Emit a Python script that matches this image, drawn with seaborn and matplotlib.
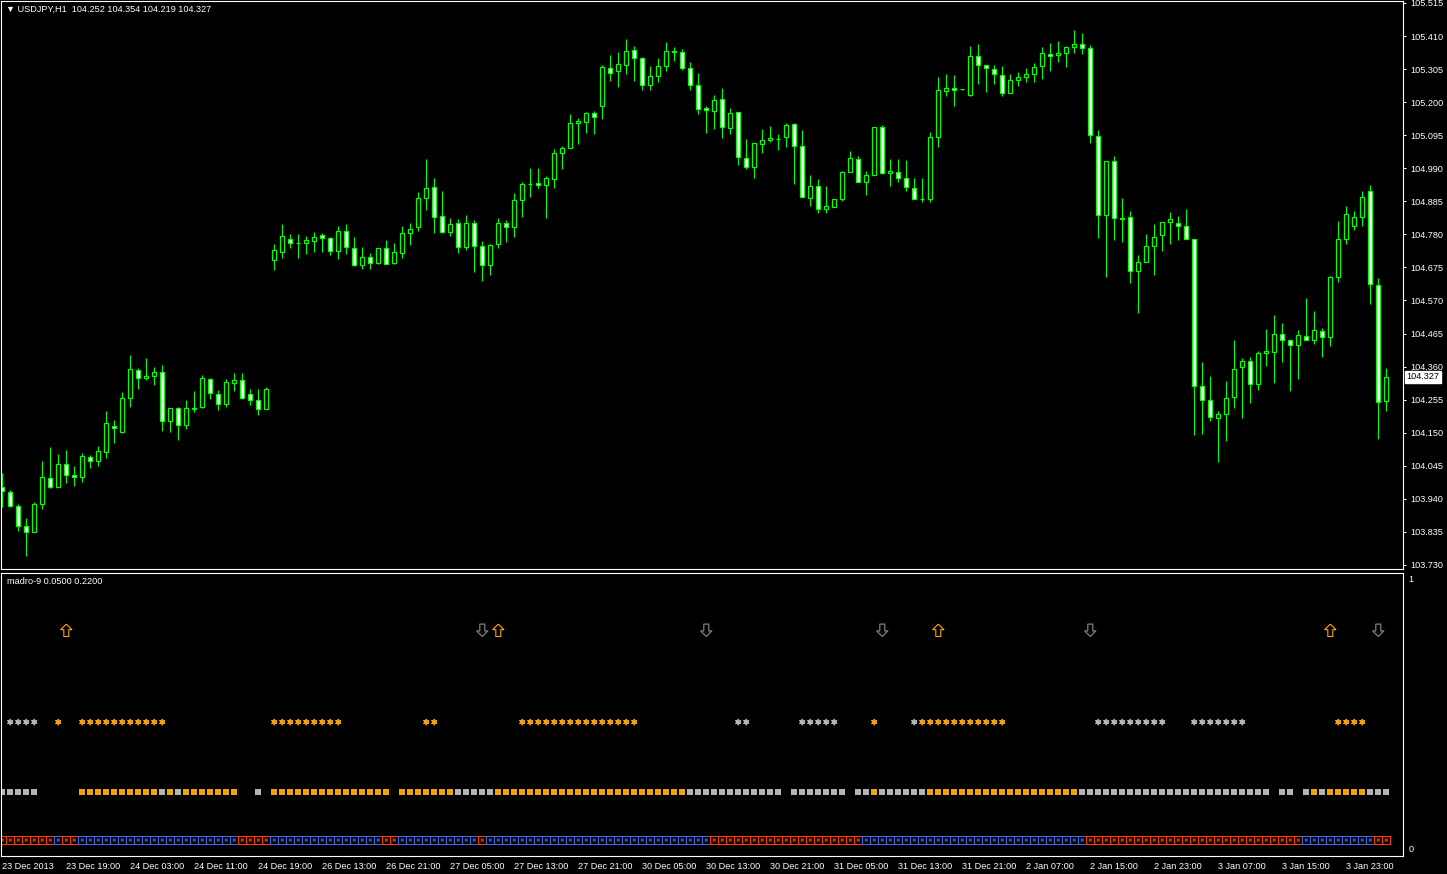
import numpy as np
import pandas as pd
import matplotlib
matplotlib.use("Agg")
import matplotlib.pyplot as plt
import matplotlib.transforms as mtransforms
from matplotlib.path import Path
import seaborn as sns

# ---------------- data (USDJPY H1) ----------------
opens = [103.978, 103.963, 103.918, 103.853, 103.834, 103.923, 104.007, 103.978, 104.049, 104.015,
         104.008, 104.072, 104.059, 104.088, 104.172, 104.151, 104.259, 104.350, 104.323, 104.331,
         104.343, 104.186, 104.229, 104.174, 104.226, 104.231, 104.321, 104.272, 104.240, 104.307,
         104.316, 104.272, 104.253, 104.226, 104.698, 104.725, 104.766, 104.752, 104.752, 104.758,
         104.777, 104.768, 104.726, 104.790, 104.736, 104.684, 104.707, 104.690, 104.736, 104.690,
         104.720, 104.783, 104.803, 104.897, 104.930, 104.837, 104.787, 104.815, 104.741, 104.815,
         104.742, 104.682, 104.749, 104.815, 104.803, 104.888, 104.941, 104.942, 104.936, 104.957,
         105.037, 105.053, 105.133, 105.136, 105.165, 105.187, 105.308, 105.298, 105.317, 105.365,
         105.339, 105.254, 105.282, 105.314, 105.358, 105.358, 105.308, 105.254, 105.180, 105.171,
         105.209, 105.117, 105.168, 105.022, 104.993, 105.066, 105.079, 105.083, 105.088, 105.130,
         105.060, 104.895, 104.933, 104.860, 104.866, 104.891, 104.977, 105.018, 104.945, 104.968,
         105.120, 104.974, 104.977, 104.958, 104.926, 104.891, 104.891, 105.090, 105.234, 105.244,
         105.241, 105.222, 105.346, 105.317, 105.304, 105.285, 105.228, 105.269, 105.279, 105.288,
         105.314, 105.352, 105.349, 105.355, 105.374, 105.384, 105.371, 105.091, 104.841, 105.012,
         104.831, 104.834, 104.663, 104.691, 104.742, 104.777, 104.818, 104.815, 104.806, 104.764,
         104.297, 104.253, 104.196, 104.208, 104.262, 104.358, 104.377, 104.304, 104.402, 104.405,
         104.463, 104.443, 104.428, 104.456, 104.443, 104.472, 104.453, 104.644, 104.764, 104.806,
         104.834, 104.917, 104.618, 104.252]
highs = [104.021, 103.968, 103.924, 103.878, 103.931, 104.060, 104.104, 104.082, 104.095, 104.044,
         104.085, 104.079, 104.107, 104.219, 104.189, 104.279, 104.397, 104.356, 104.387, 104.359,
         104.365, 104.229, 104.233, 104.254, 104.282, 104.333, 104.324, 104.286, 104.321, 104.340,
         104.340, 104.289, 104.289, 104.295, 104.749, 104.813, 104.781, 104.781, 104.775, 104.787,
         104.783, 104.771, 104.807, 104.813, 104.771, 104.739, 104.720, 104.736, 104.762, 104.752,
         104.807, 104.816, 104.914, 105.019, 104.959, 104.918, 104.832, 104.829, 104.842, 104.826,
         104.759, 104.749, 104.832, 104.826, 104.911, 104.946, 104.991, 104.991, 104.965, 105.051,
         105.061, 105.162, 105.150, 105.169, 105.172, 105.318, 105.350, 105.358, 105.401, 105.378,
         105.342, 105.314, 105.340, 105.391, 105.375, 105.369, 105.328, 105.293, 105.187, 105.223,
         105.245, 105.181, 105.168, 105.083, 105.069, 105.115, 105.124, 105.099, 105.133, 105.133,
         105.111, 104.969, 104.956, 104.933, 104.891, 104.981, 105.045, 105.028, 104.980, 105.120,
         105.127, 105.018, 105.018, 105.015, 104.958, 104.958, 105.104, 105.279, 105.288, 105.285,
         105.242, 105.378, 105.385, 105.317, 105.318, 105.315, 105.288, 105.296, 105.308, 105.324,
         105.374, 105.388, 105.394, 105.378, 105.429, 105.420, 105.382, 105.111, 105.012, 105.028,
         104.896, 104.853, 104.714, 104.780, 104.812, 104.818, 104.850, 104.837, 104.860, 104.764,
         104.374, 104.329, 104.218, 104.313, 104.443, 104.386, 104.389, 104.408, 104.479, 104.523,
         104.498, 104.443, 104.476, 104.577, 104.536, 104.482, 104.647, 104.821, 104.869, 104.853,
         104.917, 104.936, 104.640, 104.354]
lows = [103.915, 103.915, 103.839, 103.759, 103.834, 103.909, 103.975, 103.978, 103.991, 103.982,
        103.994, 104.039, 104.045, 104.071, 104.118, 104.148, 104.233, 104.290, 104.318, 104.302,
        104.156, 104.153, 104.128, 104.162, 104.217, 104.229, 104.258, 104.223, 104.233, 104.283,
        104.258, 104.238, 104.207, 104.226, 104.667, 104.706, 104.738, 104.706, 104.719, 104.725,
        104.725, 104.716, 104.703, 104.719, 104.681, 104.671, 104.671, 104.687, 104.687, 104.687,
        104.706, 104.746, 104.792, 104.858, 104.783, 104.783, 104.776, 104.722, 104.731, 104.661,
        104.633, 104.652, 104.738, 104.757, 104.773, 104.836, 104.900, 104.928, 104.833, 104.928,
        104.989, 105.053, 105.068, 105.103, 105.100, 105.147, 105.267, 105.249, 105.290, 105.268,
        105.240, 105.240, 105.265, 105.300, 105.332, 105.301, 105.239, 105.163, 105.103, 105.116,
        105.085, 105.098, 105.001, 104.987, 104.960, 105.037, 105.072, 105.049, 105.058, 104.941,
        104.898, 104.870, 104.849, 104.849, 104.866, 104.885, 104.977, 104.945, 104.906, 104.968,
        104.971, 104.934, 104.945, 104.917, 104.891, 104.884, 104.882, 105.058, 105.219, 105.189,
        105.240, 105.219, 105.259, 105.233, 105.259, 105.221, 105.228, 105.252, 105.265, 105.265,
        105.274, 105.300, 105.328, 105.313, 105.357, 105.354, 105.069, 104.770, 104.646, 104.763,
        104.757, 104.625, 104.531, 104.691, 104.650, 104.728, 104.749, 104.761, 104.764, 104.144,
        104.147, 104.188, 104.058, 104.125, 104.229, 104.197, 104.245, 104.287, 104.361, 104.307,
        104.374, 104.281, 104.320, 104.443, 104.431, 104.389, 104.424, 104.628, 104.749, 104.793,
        104.806, 104.558, 104.131, 104.219]
closes = [103.965, 103.918, 103.853, 103.834, 103.923, 104.008, 103.978, 104.050, 104.015, 104.008,
          104.075, 104.059, 104.091, 104.180, 104.164, 104.259, 104.351, 104.323, 104.329, 104.343,
          104.186, 104.229, 104.174, 104.228, 104.229, 104.323, 104.275, 104.240, 104.310, 104.316,
          104.261, 104.253, 104.226, 104.288, 104.729, 104.774, 104.752, 104.753, 104.761, 104.771,
          104.768, 104.726, 104.790, 104.739, 104.684, 104.707, 104.688, 104.736, 104.687, 104.723,
          104.783, 104.796, 104.895, 104.926, 104.836, 104.787, 104.812, 104.739, 104.815, 104.742,
          104.682, 104.746, 104.815, 104.804, 104.888, 104.939, 104.940, 104.936, 104.958, 105.037,
          105.053, 105.133, 105.139, 105.165, 105.152, 105.311, 105.292, 105.320, 105.362, 105.339,
          105.254, 105.282, 105.314, 105.362, 105.362, 105.308, 105.254, 105.177, 105.174, 105.206,
          105.120, 105.165, 105.025, 104.993, 105.069, 105.079, 105.085, 105.084, 105.127, 105.060,
          104.898, 104.933, 104.860, 104.869, 104.891, 104.977, 105.022, 104.945, 104.968, 105.120,
          104.974, 104.980, 104.958, 104.930, 104.891, 104.892, 105.088, 105.238, 105.244, 105.238,
          105.241, 105.346, 105.317, 105.308, 105.288, 105.228, 105.269, 105.279, 105.288, 105.311,
          105.355, 105.346, 105.355, 105.374, 105.384, 105.371, 105.095, 104.841, 105.012, 104.831,
          104.828, 104.663, 104.691, 104.742, 104.771, 104.818, 104.828, 104.806, 104.764, 104.297,
          104.253, 104.199, 104.208, 104.259, 104.351, 104.377, 104.304, 104.402, 104.408, 104.463,
          104.443, 104.428, 104.459, 104.443, 104.476, 104.453, 104.644, 104.764, 104.844, 104.834,
          104.898, 104.621, 104.247, 104.327]

time_labels = ["23 Dec 2013", "23 Dec 19:00", "24 Dec 03:00", "24 Dec 11:00", "24 Dec 19:00",
               "26 Dec 13:00", "26 Dec 21:00", "27 Dec 05:00", "27 Dec 13:00", "27 Dec 21:00",
               "30 Dec 05:00", "30 Dec 13:00", "30 Dec 21:00", "31 Dec 05:00", "31 Dec 13:00",
               "31 Dec 21:00", "2 Jan 07:00", "2 Jan 15:00", "2 Jan 23:00", "3 Jan 07:00",
               "3 Jan 15:00", "3 Jan 23:00"]
label_every = 8
price_ticks = [103.730, 103.835, 103.940, 104.045, 104.150, 104.255, 104.360, 104.465, 104.570,
               104.675, 104.780, 104.885, 104.990, 105.095, 105.200, 105.305, 105.410, 105.515]

# indicator "madro-9": signal arrows and colour runs per row (start bar, end bar, state)
up_arrows = [8, 62, 117, 166]
down_arrows = [60, 88, 110, 136, 172]
star_runs = [(1, 4, "gray"), (7, 7, "orange"), (10, 20, "orange"), (34, 42, "orange"),
             (53, 54, "orange"), (65, 79, "orange"), (92, 93, "gray"), (100, 104, "gray"),
             (109, 109, "orange"), (114, 114, "gray"), (115, 125, "orange"), (137, 145, "gray"),
             (149, 155, "gray"), (167, 170, "orange")]
square_runs = [(0, 4, "gray"), (10, 19, "orange"), (20, 20, "gray"), (21, 21, "orange"),
               (22, 22, "gray"), (23, 29, "orange"), (32, 32, "gray"), (34, 48, "orange"),
               (50, 56, "orange"), (57, 61, "gray"), (62, 85, "orange"), (86, 97, "gray"),
               (99, 105, "gray"), (107, 108, "gray"), (109, 109, "orange"), (110, 115, "gray"),
               (116, 134, "orange"), (135, 158, "gray"), (160, 161, "gray"), (163, 163, "gray"),
               (164, 164, "orange"), (165, 165, "gray"), (166, 170, "orange"), (171, 173, "gray")]
box_runs = [(0, 6, "red"), (7, 7, "blue"), (8, 9, "red"), (10, 29, "blue"), (30, 33, "red"),
            (34, 47, "blue"), (48, 49, "red"), (50, 59, "blue"), (60, 60, "red"), (61, 88, "blue"),
            (89, 107, "red"), (108, 135, "blue"), (136, 162, "red"), (163, 171, "blue"),
            (172, 173, "red")]
row_level = {"arrow": 0.81, "star": 0.47, "square": 0.21, "box": 0.033}

# ---------------- style ----------------
GREEN = "#00FF00"
ORANGE = "#F0A30A"
colors = {"gray": "#B4B4B4", "orange": ORANGE, "red": "#FF3C00", "blue": "#4169E1"}
FS = 6.6

sns.set_theme(style="dark", rc={"axes.facecolor": "black", "figure.facecolor": "black",
                                "axes.edgecolor": "white", "axes.grid": False})
plt.rcParams["font.family"] = ["Liberation Sans", "DejaVu Sans"]

W, H = 1447, 874
fig = plt.figure(figsize=(W / 100, H / 100), dpi=100)
ax = fig.add_axes([1 / W, (H - 569) / H, 1402 / W, 568 / H])
ax2 = fig.add_axes([1 / W, (H - 856) / H, 1402 / W, 283 / H])

n = len(opens)
df = pd.DataFrame({"bar": np.arange(n), "open": opens, "high": highs, "low": lows, "close": closes})
bull = df["close"] >= df["open"]
body_low = df[["open", "close"]].min(axis=1)
body_h = (df["close"] - df["open"]).abs().clip(lower=0.0004)

ax.vlines(df["bar"], df["low"], df["high"], color=GREEN, linewidth=0.8, zorder=1)
ax.bar(df["bar"], body_h, bottom=body_low, width=0.52,
       color=np.where(bull, "black", "white"), edgecolor=GREEN, linewidth=0.9, zorder=2)

xlim = ((1 - 2.3) / 8, (1403 - 2.3) / 8)
ax.set_xlim(*xlim)
ax.set_ylim(105.515 - 566 / 314.8, 105.515 + 2 / 314.8)
ax.yaxis.tick_right()
ax.set_yticks(price_ticks)
ax.set_yticklabels([f"{p:.3f}" for p in price_ticks])
ax.tick_params(axis="y", colors="white", labelsize=FS, length=2.5, width=0.7, pad=2.5)
ax.set_xticks([])
for s in ax.spines.values():
    s.set_color("white")
    s.set_linewidth(0.8)

# current price box
trans = mtransforms.blended_transform_factory(ax.transAxes, ax.transData)
ax.text(1.0025, closes[-1], f"{closes[-1]:.3f}", transform=trans, color="black", fontsize=FS,
        va="center", ha="left",
        bbox=dict(facecolor="white", edgecolor="white", boxstyle="square,pad=0.15"))

fig.text(6 / W, 1 - 9.5 / H,
         f"\u25bc USDJPY,H1  {opens[-1]:.3f} {highs[-1]:.3f} {lows[-1]:.3f} {closes[-1]:.3f}",
         color="white", fontsize=FS, va="center", ha="left")

# ---------------- indicator panel ----------------
def expand(runs):
    states = ["none"] * n
    for a, b, st in runs:
        for k in range(a, b + 1):
            states[k] = st
    return states

ind = pd.DataFrame({"bar": np.arange(n), "star": expand(star_runs),
                    "square": expand(square_runs), "box": expand(box_runs)})

up_path = Path([(0, 0.5), (0.45, 0.05), (0.2, 0.05), (0.2, -0.5), (-0.2, -0.5),
                (-0.2, 0.05), (-0.45, 0.05), (0, 0.5)])
down_path = Path([(x, -y) for x, y in up_path.vertices])
ax2.scatter(up_arrows, [row_level["arrow"]] * len(up_arrows), marker=up_path, s=80,
            facecolors="none", edgecolors="#FFA500", linewidths=0.8)
ax2.scatter(down_arrows, [row_level["arrow"]] * len(down_arrows), marker=down_path, s=80,
            facecolors="none", edgecolors="#8C8C8C", linewidths=0.8)

stars = ind[ind["star"] != "none"]
ax2.scatter(stars["bar"], [row_level["star"]] * len(stars), marker=(6, 2, 0), s=14,
            c=[colors[v] for v in stars["star"]], linewidths=1.0)

squares = ind[ind["square"] != "none"].assign(level=row_level["square"])
sns.scatterplot(data=squares, x="bar", y="level", hue="square", palette=colors, marker="s",
                s=20, linewidth=0, legend=False, ax=ax2)

box_cols = [colors[v] for v in ind["box"]]
ax2.scatter(ind["bar"], [row_level["box"]] * n, marker="s", s=30, facecolors="black",
            edgecolors=box_cols, linewidths=0.8)
ax2.scatter(ind["bar"], [row_level["box"]] * n, marker="x", s=5, c=box_cols, linewidths=0.7)

ax2.set_xlim(*xlim)
ax2.set_ylim(-(856 - 849) / 270, 1 + (579 - 573) / 270)
ax2.set_xlabel("")
ax2.set_ylabel("")
ax2.yaxis.tick_right()
ax2.set_yticks([0, 1])
ax2.set_yticklabels(["0", "1"])
ax2.tick_params(axis="y", colors="white", labelsize=FS, length=0, pad=4)
ax2.set_xticks(np.arange(len(time_labels)) * label_every)
ax2.set_xticklabels(time_labels, ha="left")
ax2.tick_params(axis="x", colors="white", labelsize=FS, length=3, width=0.8, pad=1.5, direction="out")
for s in ax2.spines.values():
    s.set_color("white")
    s.set_linewidth(0.8)
ax2.text(6 / 1402, 1 - 8.5 / 283, "madro-9 0.0500 0.2200", transform=ax2.transAxes,
         color="white", fontsize=FS, va="center", ha="left")

fig.savefig("out.png", dpi=100, facecolor="black")
